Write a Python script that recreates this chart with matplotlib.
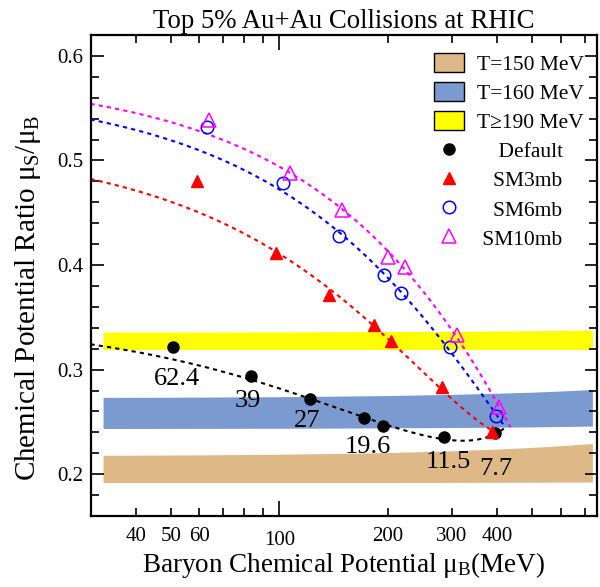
import numpy as np
import matplotlib
matplotlib.use("Agg")
import matplotlib.pyplot as plt
from matplotlib.patches import Patch
from matplotlib.lines import Line2D
from matplotlib.ticker import FixedLocator, FixedFormatter

plt.rcParams['font.family'] = ['Liberation Serif', 'DejaVu Serif']
plt.rcParams['mathtext.fontset'] = 'custom'
plt.rcParams['mathtext.rm'] = 'Liberation Serif'
plt.rcParams['mathtext.it'] = 'Liberation Serif:italic'

# ---------------- data ----------------
default_x = [50.8, 83.3, 121.6, 171.0, 193.5, 284.9, 394.6]
default_y = [0.3218, 0.2938, 0.2720, 0.2536, 0.2459, 0.2360, 0.2390]
energy_labels = ["62.4", "39", "27", "19.6", "11.5", "7.7"]
label_x = [51.9, 81.6, 119.7, 175.6, 292.6, 396.3]
label_y = [0.2852, 0.2644, 0.2447, 0.2198, 0.2055, 0.1990]

sm3_x = [59.3, 97.9, 137.4, 183.2, 203.6, 281.0, 388.0]
sm3_y = [0.4807, 0.4116, 0.3713, 0.3426, 0.3271, 0.2830, 0.2405]
sm6_x = [62.9, 102.6, 146.6, 194.2, 217.2, 296.5, 397.0]
sm6_y = [0.5324, 0.4782, 0.4278, 0.3904, 0.3737, 0.3218, 0.2560]
sm10_x = [64.0, 107.0, 149.0, 200.0, 222.4, 309.5, 405.0]
sm10_y = [0.5388, 0.4885, 0.4526, 0.4080, 0.3979, 0.3333, 0.2638]

# dashed fit curves (samples)
fit_default_x = [32.5, 60, 83.3, 121.7, 171, 216, 285, 345, 395, 418]
fit_default_y = [0.3218, 0.3043, 0.2916, 0.2715, 0.2533, 0.2437, 0.2341, 0.2325, 0.2373, 0.2443]
fit_sm3_x = [30.5, 59.5, 101.3, 137.6, 183.4, 203.6, 282, 388]
fit_sm3_y = [0.4820, 0.4526, 0.4096, 0.3713, 0.3426, 0.3276, 0.2830, 0.2405]
fit_sm6_x = [30.5, 62.1, 103.5, 146.6, 194.2, 217.2, 297, 400, 418]
fit_sm6_y = [0.5380, 0.5100, 0.4700, 0.4278, 0.3904, 0.3735, 0.3218, 0.2565, 0.2453]
fit_sm10_x = [30.5, 63.4, 105.7, 148.9, 200.6, 223, 310, 405, 436]
fit_sm10_y = [0.5531, 0.5260, 0.4909, 0.4526, 0.4080, 0.3980, 0.3330, 0.2638, 0.2453]

# temperature bands
band_x = [32.5, 60, 100, 150, 200, 300, 400, 500, 600, 735]
t150_lo = [0.1920, 0.1920, 0.1920, 0.1920, 0.1920, 0.1921, 0.1922, 0.1923, 0.1924, 0.1925]
t150_hi = [0.2180, 0.2184, 0.2191, 0.2199, 0.2207, 0.2223, 0.2240, 0.2256, 0.2272, 0.2294]
t160_lo = [0.2437, 0.2438, 0.2439, 0.2441, 0.2443, 0.2446, 0.2449, 0.2452, 0.2456, 0.2460]
t160_hi = [0.2734, 0.2737, 0.2741, 0.2747, 0.2752, 0.2763, 0.2774, 0.2784, 0.2795, 0.2810]
t190_lo = [0.3193, 0.3193, 0.3193, 0.3193, 0.3193, 0.3193, 0.3193, 0.3193, 0.3193, 0.3193]
t190_hi = [0.3359, 0.3360, 0.3361, 0.3362, 0.3364, 0.3366, 0.3369, 0.3372, 0.3374, 0.3378]

x_major = [100]
x_minor = [40, 50, 60, 70, 80, 90, 200, 300, 400, 500, 600, 700]
x_minor_labels = ["40", "50", "60", "", "", "", "200", "300", "400", "", "", ""]

# ---------------- figure ----------------
fig = plt.figure(figsize=(6.0, 5.87), dpi=100)
ax = fig.add_axes([90.5/600, 1-516/587, (597-90.5)/600, (516-35)/587])

c_tan = '#DEB887'
c_blue = '#7B9AD0'
c_yel = '#FFFF00'
ax.fill_between(band_x, t150_lo, t150_hi, color=c_tan, lw=0, zorder=1)
ax.fill_between(band_x, t160_lo, t160_hi, color=c_blue, lw=0, zorder=1)
ax.fill_between(band_x, t190_lo, t190_hi, color=c_yel, lw=0, zorder=1)

def fitline(xs, ys, deg, xend, color):
    p = np.polyfit(xs, ys, deg)
    xx = np.geomspace(30, xend, 300)
    ax.plot(xx, np.polyval(p, xx), color=color, lw=1.5, ls=(0, (2, 2)), zorder=2)

fitline(fit_default_x, fit_default_y, 4, 418, 'black')
fitline(fit_sm3_x, fit_sm3_y, 2, 398, 'red')
fitline(fit_sm6_x, fit_sm6_y, 2, 418, 'blue')
fitline(fit_sm10_x, fit_sm10_y, 2, 436, 'magenta')

ax.plot(default_x, default_y, 'o', color='black', ms=8, zorder=4)
ax.plot(sm3_x, sm3_y, '^', color='red', ms=9, zorder=4)
ax.plot(sm6_x, sm6_y, 'o', mfc='none', mec='blue', mew=1.1, ms=9, zorder=4)
ax.plot(sm10_x, sm10_y, '^', mfc='none', mec='magenta', mew=1.1, ms=9.5, zorder=4)

for t, x, y in zip(energy_labels, label_x, label_y):
    ax.text(x, y, t, ha='center', va='baseline', fontsize=19, zorder=5)

ax.set_xscale('log')
ax.set_xlim(30, 757)
ax.set_ylim(0.16, 0.62)

ax.xaxis.set_major_locator(FixedLocator(x_major))
ax.xaxis.set_major_formatter(FixedFormatter(["100"]))
ax.xaxis.set_minor_locator(FixedLocator(x_minor))
ax.xaxis.set_minor_formatter(FixedFormatter(x_minor_labels))
ax.set_yticks([0.2, 0.3, 0.4, 0.5, 0.6])
ax.set_yticklabels(["0.2", "0.3", "0.4", "0.5", "0.6"])
ax.set_yticks(np.arange(0.16, 0.621, 0.02), minor=True)

ax.tick_params(which='both', direction='in', top=True, right=True, labelsize=15, width=1.2)
ax.tick_params(axis='x', which='major', length=11, pad=11)
ax.tick_params(axis='x', which='minor', length=6, pad=8)
ax.tick_params(axis='y', which='major', length=9, pad=5)
ax.tick_params(axis='y', which='minor', length=6)
for s in ax.spines.values():
    s.set_linewidth(1.6)

ax.set_xlabel('Baryon Chemical Potential μ$_{\\mathrm{B}}$(MeV)', fontsize=19.5, labelpad=0)
ax.set_ylabel('Chemical Potential Ratio μ$_{\\mathrm{S}}$/μ$_{\\mathrm{B}}$', fontsize=21)
ax.yaxis.set_label_coords(-0.094, 0.453)
ax.set_title('Top 5% Au+Au Collisions at RHIC', fontsize=19.3, pad=5)

handles = [
    Patch(facecolor=c_tan, edgecolor='black', lw=1.0),
    Patch(facecolor=c_blue, edgecolor='black', lw=1.0),
    Patch(facecolor=c_yel, edgecolor='black', lw=1.0),
    Line2D([], [], ls='none', marker='o', color='black', ms=8),
    Line2D([], [], ls='none', marker='^', color='red', ms=9),
    Line2D([], [], ls='none', marker='o', mfc='none', mec='blue', mew=1.1, ms=9),
    Line2D([], [], ls='none', marker='^', mfc='none', mec='magenta', mew=1.1, ms=9.5),
]
labels = ['T=150 MeV', 'T=160 MeV', 'T≥190 MeV', '    Default', '   SM3mb', '   SM6mb', ' SM10mb']
leg = ax.legend(handles, labels, loc='upper left', bbox_to_anchor=(434/600, 1-53/587),
                bbox_transform=fig.transFigure, frameon=False, fontsize=15.5,
                handlelength=1.4, handleheight=1.0, handletextpad=0.62,
                labelspacing=0.33, borderpad=0, borderaxespad=0)

fig.savefig('out.png', dpi=100)
